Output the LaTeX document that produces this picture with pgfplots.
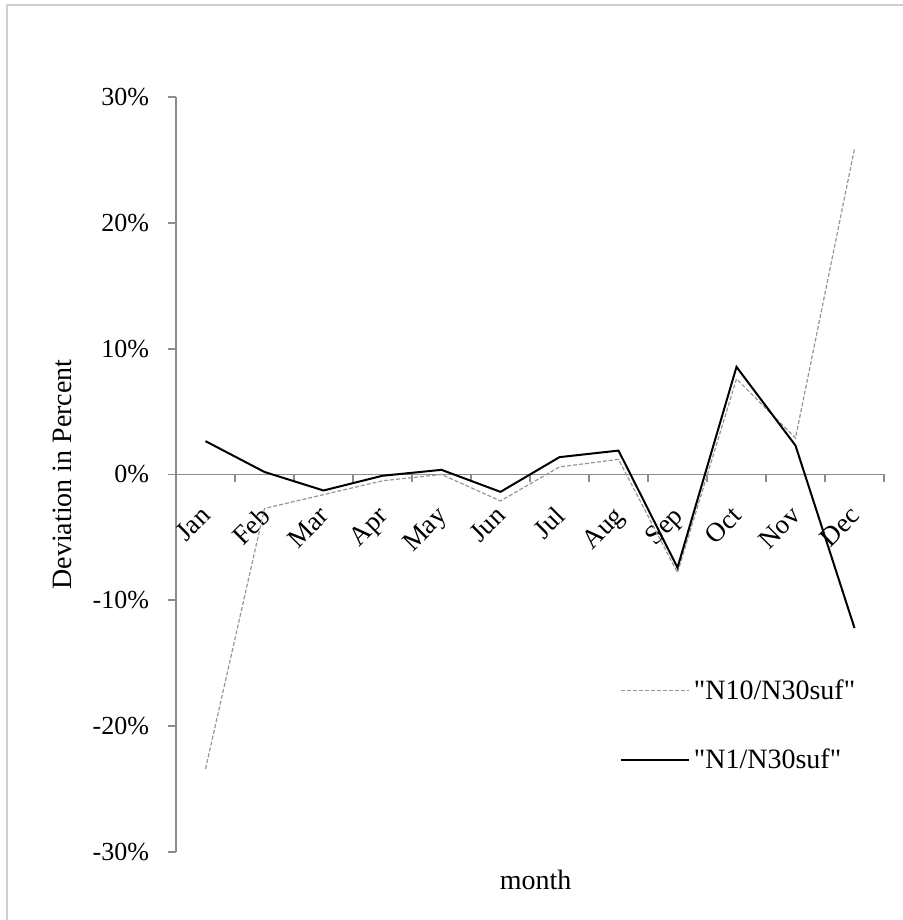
\documentclass[border=0pt]{standalone}
\usepackage{pgfplots}
\pgfplotsset{compat=1.18}
\usepackage{fontspec}
\setmainfont{Liberation Serif}

\definecolor{axisgray}{RGB}{140,140,140}
\definecolor{framegray}{RGB}{208,208,208}
\definecolor{seriesgray}{RGB}{150,150,150}

% monthly deviation, in percent
\pgfplotstableread{
m  nten   none
0  -23.4  2.65
1  -2.7   0.2
2  -1.6   -1.27
3  -0.5   -0.1
4  0.0    0.37
5  -2.1   -1.38
6  0.6    1.38
7  1.2    1.9
8  -7.8   -7.4
9  7.6    8.55
10 2.9    2.3
11 25.9   -12.2
}\devtable

\begin{document}
\begin{tikzpicture}[font=\fontsize{14}{16.8}\selectfont]
\useasboundingbox (0,0) rectangle (451.5pt,460pt);
\draw[framegray, line width=1pt] (3.5pt,0) -- (3.5pt,457.5pt) -- (451.5pt,457.5pt);
\begin{axis}[
  at={(88pt,34pt)}, anchor=south west,
  scale only axis, width=354pt, height=377.5pt,
  xmin=-0.5, xmax=11.5, ymin=-30, ymax=30,
  axis x line*=middle, axis y line*=left,
  hide obscured x ticks=false,
  axis line style={axisgray, line width=0.9pt},
  tick style={axisgray, line width=0.9pt},
  major tick length=4pt,
  tick align=outside,
  xtick={-0.5,0.5,...,11.5},
  xticklabels={Jan,Feb,Mar,Apr,May,Jun,Jul,Aug,Sep,Oct,Nov,Dec},
  x tick label as interval,
  xticklabel style={xshift=-3pt, yshift=-9.5pt, rotate=45, anchor=north east,
    inner sep=1pt, font=\fontsize{13.5}{16}\selectfont},
  ytick={-30,-20,...,30},
  yticklabels={-30\%,-20\%,-10\%,0\%,10\%,20\%,30\%},
  yticklabel style={anchor=east, xshift=-6pt, font=\fontsize{13}{15.6}\selectfont},
  ylabel={Deviation in Percent},
  ylabel style={at={(axis description cs:-0.161,0.5)}, anchor=center},
  xlabel={month},
  xlabel style={at={(axis description cs:0.508,-0.037)}, anchor=center},
  legend style={draw=none, fill=none, inner sep=0pt, outer sep=0pt,
    at={(axis description cs:0.627,0.234)}, anchor=north west,
    row sep=19.5pt, nodes={inner sep=2pt}},
  legend cell align=left,
  legend image code/.code={\draw[#1] (0pt,0pt) -- (34pt,0pt);},
  clip=false,
]
\addplot[seriesgray, line width=0.6pt, dash pattern=on 2pt off 1pt] table[x=m, y=nten] {\devtable};
\addlegendentry{\textquotedbl N10/N30suf\textquotedbl}
\addplot[black, line width=1pt] table[x=m, y=none] {\devtable};
\addlegendentry{\textquotedbl N1/N30suf\textquotedbl}
\end{axis}
\end{tikzpicture}
\end{document}
